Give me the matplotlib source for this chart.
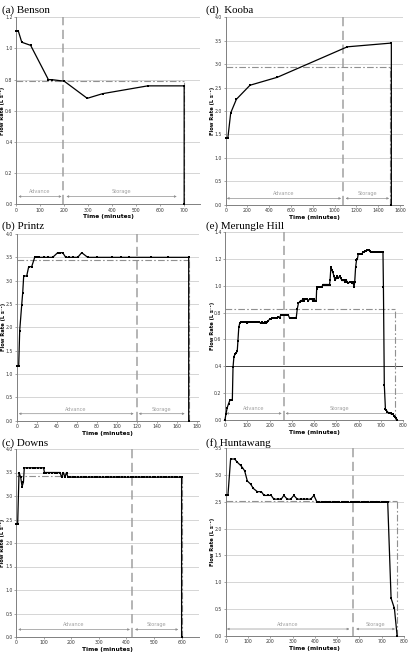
import matplotlib.pyplot as plt
from matplotlib.ticker import FormatStrFormatter

W, H = 409, 657

# ---- data (time in minutes, flow in L/s) ----
benson_t = [0, 10, 24, 61, 135, 149, 201, 297, 361, 549, 701, 701]
benson_q = [1.11, 1.11, 1.04, 1.02, 0.80, 0.80, 0.79, 0.68, 0.71, 0.76, 0.76, 0.0]

kooba_t = [0, 20, 46, 98, 223, 474, 1116, 1520, 1520]
kooba_q = [1.43, 1.43, 1.96, 2.25, 2.55, 2.72, 3.37, 3.45, 0.0]

printz_t = [0, 2, 3, 5, 6, 7, 10, 12, 15, 18, 20, 22, 27, 31, 36, 41, 43, 46,
            49, 52, 56, 61, 65, 71, 80, 95, 104, 112, 134, 151, 172, 172]
printz_q = [1.17, 1.17, 1.93, 2.48, 2.74, 3.1, 3.1, 3.3, 3.3, 3.5, 3.5, 3.5,
            3.5, 3.5, 3.5, 3.6, 3.6, 3.6, 3.5, 3.5, 3.5, 3.5, 3.6, 3.5, 3.5,
            3.5, 3.5, 3.5, 3.5, 3.5, 3.5, 0.0]

merungle_t = [0, 4, 10, 16, 22, 28, 33, 36, 40, 45,
              50, 55, 58, 62, 66, 70, 75, 80, 85, 90,
              95, 100, 105, 110, 115, 120, 125, 130, 135, 140,
              145, 150, 155, 160, 165, 170, 175, 180, 185, 190,
              195, 200, 205, 210, 215, 220, 225, 230, 235, 240,
              245, 250, 255, 260, 265, 270, 275, 280, 285, 290,
              295, 300, 305, 310, 315, 320, 325, 330, 335, 340,
              345, 350, 355, 360, 365, 370, 375, 380, 385, 390,
              395, 400, 405, 410, 412, 415, 420, 425, 430, 435,
              440, 445, 450, 455, 460, 465, 470, 472, 476, 480,
              485, 490, 495, 500, 505, 510, 515, 520, 525, 530,
              535, 540, 545, 550, 555, 560, 565, 570, 575, 580,
              583, 587, 591, 595, 599, 604, 610, 615, 620, 625,
              630, 635, 640, 645, 650, 655, 660, 665, 670, 675,
              680, 685, 690, 695, 700, 705, 710, 712, 716, 721,
              725, 730, 735, 740, 745, 750, 755, 760, 765, 770, 773]
merungle_q = [0.0, 0.04, 0.09, 0.12, 0.145, 0.15, 0.15, 0.39, 0.47, 0.49,
              0.50, 0.51, 0.59, 0.69, 0.72, 0.73, 0.73, 0.73, 0.73, 0.73,
              0.73, 0.72, 0.73, 0.73, 0.73, 0.73, 0.73, 0.73, 0.73, 0.73,
              0.73, 0.73, 0.73, 0.72, 0.73, 0.72, 0.72, 0.73, 0.72, 0.73,
              0.74, 0.75, 0.75, 0.76, 0.76, 0.76, 0.76, 0.76, 0.76, 0.77,
              0.76, 0.78, 0.78, 0.78, 0.78, 0.78, 0.78, 0.78, 0.78, 0.76,
              0.76, 0.76, 0.76, 0.76, 0.76, 0.76, 0.83, 0.87, 0.88, 0.89,
              0.89, 0.90, 0.89, 0.90, 0.90, 0.90, 0.89, 0.90, 0.90, 0.90,
              0.89, 0.90, 0.89, 0.89, 0.98, 0.99, 0.99, 0.99, 0.99, 0.99,
              1.01, 1.01, 1.01, 1.01, 1.01, 1.01, 1.01, 1.04, 1.14, 1.12,
              1.10, 1.07, 1.04, 1.06, 1.07, 1.06, 1.07, 1.06, 1.04, 1.04,
              1.04, 1.03, 1.04, 1.03, 1.02, 1.03, 1.03, 1.02, 1.03, 0.99,
              1.03, 1.14, 1.19, 1.20, 1.24, 1.24, 1.24, 1.24, 1.25, 1.25,
              1.26, 1.26, 1.27, 1.27, 1.26, 1.25, 1.25, 1.25, 1.25, 1.25,
              1.25, 1.25, 1.25, 1.25, 1.25, 1.25, 1.25, 0.99, 0.26, 0.08,
              0.07, 0.06, 0.05, 0.05, 0.05, 0.04, 0.04, 0.03, 0.02, 0.01, 0.0]

downs_t = [0, 6, 11, 17, 22, 27, 30, 40, 50, 60, 70, 80, 90, 100, 103, 110,
           120, 130, 140, 150, 160, 165, 172, 177, 183, 188, 195, 205, 215,
           225, 235, 245, 255, 265, 275, 285, 295, 305, 315, 325, 335, 345,
           355, 365, 375, 385, 395, 405, 415, 425, 435, 445, 455, 465, 475,
           485, 495, 505, 515, 525, 535, 545, 555, 565, 575, 585, 595, 600, 600]
downs_q = [2.4, 2.4, 3.5, 3.4, 3.2, 3.3, 3.6, 3.6, 3.6, 3.6, 3.6, 3.6, 3.6,
           3.6, 3.5, 3.5, 3.5, 3.5, 3.5, 3.5, 3.5, 3.4, 3.5, 3.4, 3.5, 3.4,
           3.4, 3.4, 3.4, 3.4, 3.4, 3.4, 3.4, 3.4, 3.4, 3.4, 3.4, 3.4, 3.4,
           3.4, 3.4, 3.4, 3.4, 3.4, 3.4, 3.4, 3.4, 3.4, 3.4, 3.4, 3.4, 3.4,
           3.4, 3.4, 3.4, 3.4, 3.4, 3.4, 3.4, 3.4, 3.4, 3.4, 3.4, 3.4, 3.4,
           3.4, 3.4, 3.4, 0.0]

huntawang_t = [0, 10, 22, 40, 52, 67, 75, 85, 97, 112, 124, 142, 160, 172,
               190, 204, 216, 234, 249, 261, 276, 291, 306, 321, 336, 351, 366,
               381, 396, 410, 420, 430, 440, 450, 460, 470, 480, 490, 500, 510,
               520, 530, 540, 550, 560, 570, 580, 590, 600, 610, 620, 630, 640,
               650, 660, 670, 680, 690, 700, 710, 720, 727, 742, 757, 769]
huntawang_q = [2.62, 2.62, 3.30, 3.30, 3.24, 3.18, 3.14, 3.08, 2.89, 2.83,
               2.75, 2.69, 2.69, 2.62, 2.62, 2.62, 2.55, 2.55, 2.55, 2.62,
               2.55, 2.55, 2.62, 2.55, 2.55, 2.55, 2.55, 2.55, 2.62, 2.49,
               2.49, 2.49, 2.49, 2.49, 2.49, 2.49, 2.49, 2.49, 2.49, 2.49,
               2.49, 2.49, 2.49, 2.49, 2.49, 2.49, 2.49, 2.49, 2.49, 2.49,
               2.49, 2.49, 2.49, 2.49, 2.49, 2.49, 2.49, 2.49, 2.49, 2.49,
               2.49, 2.49, 0.70, 0.51, 0.0]

# site summaries: end of advance, mean inflow, end time for mean line
advance_end = {'a': 197, 'd': 1080, 'b': 120, 'e': 264, 'c': 422, 'f': 570}
mean_flow = {'a': 0.79, 'd': 2.93, 'b': 3.45, 'e': 0.83, 'c': 3.43, 'f': 2.52}
mean_end = {'a': 701, 'd': 1512, 'b': 172, 'e': 766, 'c': 600, 'f': 769}

GREY = '#a0a0a0'


def add_panel(fig, key, title, t, q, box, title_pos, xmax, xticks, ymax, ystep,
              arrow_y, adv, sto, extra_line=None):
    l, r, top, bot = box
    ax = fig.add_axes([l / W, 1 - bot / H, (r - l) / W, (bot - top) / H])
    ax.set_xlim(0, xmax)
    ax.set_ylim(0, ymax)
    yt = [i * ystep for i in range(int(round(ymax / ystep)) + 1)]
    ax.set_yticks(yt)
    ax.set_xticks(xticks)
    ax.yaxis.set_major_formatter(FormatStrFormatter('%.1f'))
    ax.grid(axis='y', color='#cfcfcf', lw=0.6)
    ax.set_axisbelow(True)
    for s in ['top', 'right']:
        ax.spines[s].set_visible(False)
    for s in ['left', 'bottom']:
        ax.spines[s].set_color('#808080')
        ax.spines[s].set_linewidth(0.7)
    ax.tick_params(labelsize=3.3, length=1.5, width=0.5, color='#808080',
                   labelcolor='#333333', pad=1.0)

    if extra_line is not None:
        ax.axhline(extra_line, color='#404040', lw=0.7, zorder=1)

    # end of advance and mean inflow lines
    ax.axvline(advance_end[key], color=GREY, lw=1.1, dashes=(6, 3), zorder=2)
    m = mean_flow[key]
    me = mean_end[key]
    ax.plot([0, me], [m, m], color='#909090', lw=0.8, dashes=(6, 2, 1.5, 2), zorder=2)
    ax.plot([me, me], [0, m], color='#909090', lw=0.8, dashes=(6, 2, 1.5, 2), zorder=2)

    ax.plot(t, q, color='black', lw=0.9, marker='s', ms=1.7, mew=0, zorder=4,
            clip_on=False)

    # advance / storage arrows
    for (x0, x1), label in [(adv, 'Advance'), (sto, 'Storage')]:
        ax.annotate('', xy=(x1, arrow_y), xytext=(x0, arrow_y),
                    arrowprops=dict(arrowstyle='<|-|>', color='#909090', lw=0.5,
                                    mutation_scale=3, shrinkA=0, shrinkB=0))
        ax.annotate(label, xy=((x0 + x1) / 2, arrow_y), xytext=(0, 1.5),
                    textcoords='offset points', ha='center', va='bottom',
                    fontsize=3.6, color=GREY)

    ax.set_xlabel('Time (minutes)', fontsize=4.2, fontweight='bold', labelpad=1.0)
    ax.set_ylabel('Flow Rate (L s⁻¹)', fontsize=3.7, fontweight='bold')
    ax.yaxis.set_label_coords(-10.5 / (r - l), 0.5)
    fig.text(title_pos[0] / W, 1 - title_pos[1] / H, title, fontsize=7.9,
             family='Liberation Serif', ha='left', va='baseline')
    return ax


fig = plt.figure(figsize=(W / 100, H / 100), dpi=100)

add_panel(fig, 'a', '(a) Benson', benson_t, benson_q, (16, 200, 17.3, 204.3),
          (2, 12.5), 767, range(0, 701, 100), 1.2, 0.2, 0.05, (10, 190), (210, 670))
add_panel(fig, 'd', '(d)  Kooba', kooba_t, kooba_q, (225.7, 403, 17.3, 204.7),
          (206, 12.5), 1627, range(0, 1601, 200), 4.0, 0.5, 0.135, (10, 1060), (1100, 1500))
add_panel(fig, 'b', '(b) Printz', printz_t, printz_q, (16.7, 198.7, 234, 420.7),
          (2, 229), 182, range(0, 181, 20), 4.0, 0.5, 0.15, (2, 117), (122, 168))
add_panel(fig, 'e', '(e) Merungle Hill', merungle_t, merungle_q, (225, 403, 232.3, 419.7),
          (206, 229), 800, range(0, 801, 100), 1.4, 0.2, 0.047, (5, 255), (272, 755),
          extra_line=0.4)
add_panel(fig, 'c', '(c) Downs', downs_t, downs_q, (16, 198.7, 449, 637),
          (2, 445.5), 662, range(0, 601, 100), 4.0, 0.5, 0.16, (8, 413), (431, 588))
add_panel(fig, 'f', '(f) Huntawang', huntawang_t, huntawang_q, (225.7, 404, 448.3, 635.7),
          (206, 445.5), 800, range(0, 801, 100), 3.5, 0.5, 0.125, (5, 555), (585, 760))

fig.savefig('out.png', dpi=100)
plt.close()
